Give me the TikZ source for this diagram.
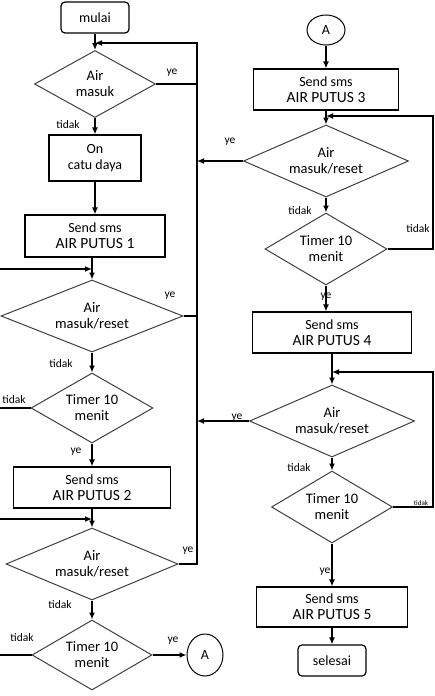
\documentclass[tikz,border=0pt]{standalone}
\usepackage{fontspec}
\setmainfont{Carlito}
\usetikzlibrary{positioning,arrows.meta,shapes.geometric}
\newcommand{\smstext}[1]{Send sms\\{\fontsize{15.5}{17}\selectfont AIR PUTUS #1}}

\begin{document}
\begin{tikzpicture}[x=1pt, y=-1pt, >={Latex[length=7pt,width=6pt]},
      font=\fontsize{14}{16}\selectfont,
      proc/.style={draw, line width=1.2pt, align=center, inner sep=2pt},
      term/.style={proc, rounded corners=4pt, minimum width=68pt, minimum height=31pt},
      dec/.style={diamond, draw=black!75, line width=1pt, align=center,
                  inner sep=0pt, aspect=1.7, font=\fontsize{14.5}{16}\selectfont},
      conn/.style={ellipse, draw, line width=1pt, inner sep=0pt},
      lbl/.style={font=\fontsize{11.5}{13}\selectfont, inner sep=1pt},
      flow/.style={line width=1.5pt}]
    \useasboundingbox (0,0) rectangle (435,696);

    % kolom kiri
    \node[term] (mulai) at (95,17.5) {mulai};
    \node[dec, minimum width=121pt, minimum height=67pt] (d1) at (95,84) {Air\\masuk};
    \node[proc, minimum width=92pt, minimum height=46pt] (catu) at (95,158) {On\\catu daya};
    \node[proc, minimum width=140pt, minimum height=42pt] (sms1) at (95,236) {\smstext{1}};
    \node[dec, minimum width=182pt, minimum height=72pt] (d2) at (92,316) {Air\\masuk/reset};
    \node[dec, minimum width=122pt, minimum height=70pt] (d3) at (92,408) {Timer 10\\menit};
    \node[proc, minimum width=157pt, minimum height=41pt] (sms2) at (92,487.5) {\smstext{2}};
    \node[dec, minimum width=172pt, minimum height=72pt] (d4) at (92,564) {Air\\masuk/reset};
    \node[dec, minimum width=120pt, minimum height=70pt] (d5) at (92,655) {Timer 10\\menit};
    \node[conn, minimum width=36pt, minimum height=42pt] (a1) at (205,655) {A};

    % kolom kanan
    \node[conn, minimum width=38pt, minimum height=30pt] (a2) at (326,30) {A};
    \node[proc, minimum width=145pt, minimum height=41pt] (sms3) at (326,89.5) {\smstext{3}};
    \node[dec, minimum width=165pt, minimum height=72pt] (r1) at (326,161) {Air\\masuk/reset};
    \node[dec, minimum width=122pt, minimum height=72pt] (r2) at (326,249) {Timer 10\\menit};
    \node[proc, minimum width=159pt, minimum height=41pt] (sms4) at (332,332.5) {\smstext{4}};
    \node[dec, minimum width=165pt, minimum height=72pt] (r3) at (332,421) {Air\\masuk/reset};
    \node[dec, minimum width=121pt, minimum height=72pt] (r4) at (332,507) {Timer 10\\menit};
    \node[proc, minimum width=151pt, minimum height=40pt] (sms5) at (332,607) {\smstext{5}};
    \node[term] (selesai) at (332,660.5) {selesai};

    % titik bantu
    \coordinate (xl) at (197,0);
    \coordinate (xr) at (433,0);
    \coordinate (xe) at (0,0);
    \coordinate (m1) at (95,43);
    \coordinate (m2) at (92,269);
    \coordinate (m4) at (92,519);
    \coordinate (m5) at (326,116);
    \coordinate (m6) at (332,372);

    % garis kiri
    \draw[flow,->] (mulai) -- (d1);
    \draw[flow,->] (d1) -- (catu);
    \draw[flow,->] (catu) -- (sms1);
    \draw[flow,->] (sms1.south -| d2.north) -- (d2.north);
    \draw[flow,->] (xe |- m2) -- (m2);
    \draw[flow,->] (d2) -- (d3);
    \draw[flow] (d3.west) -- (d3.west -| xe);
    \draw[flow,->] (d3) -- (sms2);
    \draw[flow,->] (sms2) -- (d4);
    \draw[flow,->] (xe |- m4) -- (m4);
    \draw[flow,->] (d4) -- (d5);
    \draw[flow] (d5.west) -- (d5.west -| xe);
    \draw[flow,->] (d5) -- (a1);
    \draw[flow] (d1.east) -- (d1.east -| xl);
    \draw[flow] (d2.east) -- (d2.east -| xl);
    \draw[flow,->] (d4.east) -- (d4.east -| xl) |- (m1);

    % garis kanan
    \draw[flow,->] (a2) -- (sms3);
    \draw[flow,->] (sms3) -- (r1);
    \draw[flow,->] (r1) -- (r2);
    \draw[flow,->] (r1.west) -- (r1.west -| xl);
    \draw[flow,->] (r2.east) -- (r2.east -| xr) |- (m5);
    \draw[flow,->] (r2.south) -- (r2.south |- sms4.north);
    \draw[flow,->] (sms4) -- (r3);
    \draw[flow,->] (r3) -- (r4);
    \draw[flow,->] (r3.west) -- (r3.west -| xl);
    \draw[flow,->] (r4.east) -- (r4.east -| xr) |- (m6);
    \draw[flow,->] (r4) -- (sms5);
    \draw[flow,->] (sms5) -- (selesai);

    % label ye / tidak
    \node[lbl] (y1) at (172,73) {ye};
    \node[lbl] (t1) at (68,125) {tidak};
    \node[lbl] (y2) at (170,296) {ye};
    \node[lbl] (t2) at (61,364) {tidak};
    \node[lbl] (t3) at (14,400) {tidak};
    \node[lbl] (y3) at (76,452) {ye};
    \node[lbl] (y4) at (188,551) {ye};
    \node[lbl] (t4) at (60,605) {tidak};
    \node[lbl] (t5) at (22,638) {tidak};
    \node[lbl] (y5) at (173,641) {ye};
    \node[lbl] (y6) at (230,142) {ye};
    \node[lbl] (t6) at (300,211) {tidak};
    \node[lbl] (t7) at (418,229) {tidak};
    \node[lbl] (y7) at (326,297) {ye};
    \node[lbl] (y8) at (237,418) {ye};
    \node[lbl] (t8) at (299,468) {tidak};
    \node[lbl, font=\fontsize{7}{8}\selectfont] (t9) at (421,503) {tidak};
    \node[lbl] (y9) at (325,572) {ye};
  \end{tikzpicture}
\end{document}
